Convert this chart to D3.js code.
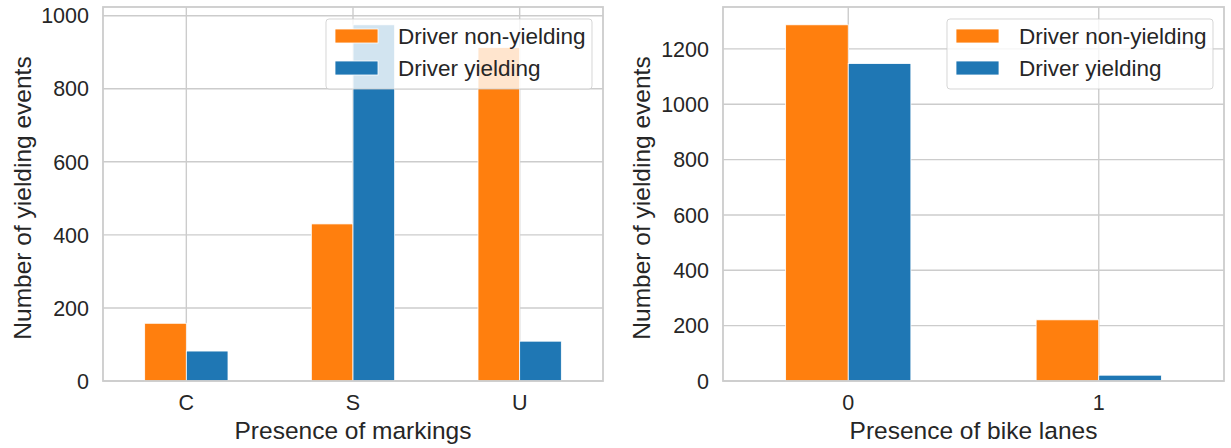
<!DOCTYPE html>
<html>
<head>
<meta charset="utf-8">
<script src="https://cdn.jsdelivr.net/npm/d3@7"></script>
<style>
    body { margin: 0; background: #fff; }
    text { font-family: "Liberation Sans", Arial, sans-serif; fill: #262626; }
</style>
</head>
<body>
<svg class="chart"></svg>
<script>
// data
var series = ["Driver non-yielding", "Driver yielding"];
var colors = ["#ff7f0e", "#1f77b4"];

var markingCats = ["C", "S", "U"];
var markingNonYield = [158, 430, 913];
var markingYield = [82, 975, 109];
var markingTicks = [0, 200, 400, 600, 800, 1000];

var bikeCats = ["0", "1"];
var bikeNonYield = [1287, 221];
var bikeYield = [1147, 21];
var bikeTicks = [0, 200, 400, 600, 800, 1000, 1200];

var W = 1231, H = 448;

var svg = d3.select(".chart")
    .attr("width", W)
    .attr("height", H);

function panel(box, cats, vals, ticks, xLabel) {

    var x = d3.scaleBand().domain(cats).range([box.left, box.right]).padding(0);
    var inner = d3.scaleBand().domain(series)
        .range([x.bandwidth() * 0.25, x.bandwidth() * 0.75]);
    var ymax = d3.max(vals, function(v) { return d3.max(v); }) * 1.05;
    var y = d3.scaleLinear().domain([0, ymax]).range([box.bottom, box.top]);

    var g = svg.append("g");

    // grid
    g.append("g").selectAll("line.h")
        .data(ticks).enter()
        .append("line")
        .attr("x1", box.left).attr("x2", box.right)
        .attr("y1", function(d) { return y(d); })
        .attr("y2", function(d) { return y(d); })
        .attr("stroke", "#cccccc").attr("stroke-width", 1.4);
    g.append("g").selectAll("line.v")
        .data(cats).enter()
        .append("line")
        .attr("x1", function(d) { return x(d) + x.bandwidth() / 2; })
        .attr("x2", function(d) { return x(d) + x.bandwidth() / 2; })
        .attr("y1", box.top).attr("y2", box.bottom)
        .attr("stroke", "#cccccc").attr("stroke-width", 1.4);

    // bars
    series.forEach(function(s, si) {
        g.append("g").selectAll("rect")
            .data(cats).enter()
            .append("rect")
            .attr("x", function(d) { return x(d) + inner(s); })
            .attr("y", function(d, i) { return y(vals[si][i]); })
            .attr("width", inner.bandwidth())
            .attr("height", function(d, i) { return y(0) - y(vals[si][i]); })
            .attr("fill", colors[si])
            .attr("stroke", "#fff")
            .attr("stroke-width", 0.8);
    });

    // frame
    g.append("rect")
        .attr("x", box.left).attr("y", box.top)
        .attr("width", box.right - box.left)
        .attr("height", box.bottom - box.top)
        .attr("fill", "none")
        .attr("stroke", "#cccccc")
        .attr("stroke-width", 1.8);

    // y ticks
    g.append("g").selectAll("text")
        .data(ticks).enter()
        .append("text")
        .attr("x", box.left - 14)
        .attr("y", function(d) { return y(d); })
        .attr("dy", "0.36em")
        .attr("text-anchor", "end")
        .style("font-size", "21.5px")
        .text(function(d) { return d; });

    // x ticks
    g.append("g").selectAll("text")
        .data(cats).enter()
        .append("text")
        .attr("x", function(d) { return x(d) + x.bandwidth() / 2; })
        .attr("y", box.bottom + 29)
        .attr("text-anchor", "middle")
        .style("font-size", "21.5px")
        .text(function(d) { return d; });

    // axis labels
    g.append("text")
        .attr("x", (box.left + box.right) / 2)
        .attr("y", box.bottom + 58)
        .attr("text-anchor", "middle")
        .style("font-size", "24.5px")
        .text(xLabel);

    g.append("text")
        .attr("transform", "translate(" + box.ylab + "," + ((box.top + box.bottom) / 2 + 4) + ") rotate(-90)")
        .attr("dy", "0.35em")
        .attr("text-anchor", "middle")
        .style("font-size", "24.5px")
        .text("Number of yielding events");

    // legend
    var lw = 266, lh = 70;
    var lx = box.right - 11 - lw, ly = 19;
    var leg = g.append("g").attr("transform", "translate(" + lx + "," + ly + ")");
    leg.append("rect")
        .attr("width", lw).attr("height", lh)
        .attr("rx", 3)
        .attr("fill", "#fff").attr("fill-opacity", 0.8)
        .attr("stroke", "#cccccc").attr("stroke-opacity", 0.8);
    var item = leg.selectAll("g.item")
        .data(series).enter()
        .append("g")
        .attr("transform", function(d, i) { return "translate(9," + (17 + i * 32) + ")"; });
    item.append("rect")
        .attr("x", 0).attr("y", -7)
        .attr("width", 43).attr("height", 14)
        .attr("fill", function(d, i) { return colors[i]; })
        .attr("stroke", "#fff").attr("stroke-width", 0.8);
    item.append("text")
        .attr("x", 63)
        .attr("dy", "0.36em")
        .style("font-size", "22.5px")
        .text(function(d) { return d; });
}

panel({left: 103, right: 603, top: 7, bottom: 381, ylab: 22},
    markingCats, [markingNonYield, markingYield], markingTicks, "Presence of markings");
panel({left: 723, right: 1224, top: 7, bottom: 381, ylab: 641},
    bikeCats, [bikeNonYield, bikeYield], bikeTicks, "Presence of bike lanes");
</script>
</body>
</html>
